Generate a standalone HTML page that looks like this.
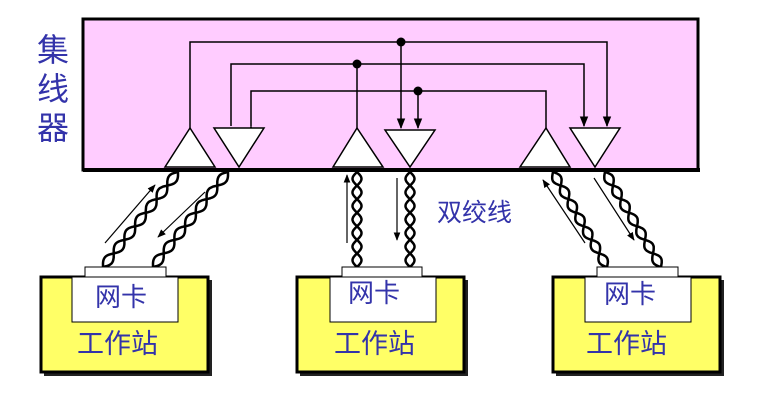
<!DOCTYPE html>
<html><head><meta charset="utf-8"><style>
html,body{margin:0;padding:0;background:#fff;width:769px;height:414px;overflow:hidden}
svg text{font-family:"Liberation Sans","Noto Sans CJK SC",sans-serif;fill:#3333aa}
</style></head><body>
<svg id="s" width="769" height="414" viewBox="0 0 769 414" xmlns="http://www.w3.org/2000/svg">
<defs>
<marker id="a" viewBox="0 0 10 10" refX="9" refY="5" markerWidth="7" markerHeight="7" orient="auto"><path d="M0,1 L10,5 L0,9 z" fill="#000"/></marker>
</defs>
<rect x="83" y="19" width="615" height="151" fill="#ffccff" stroke="#000" stroke-width="3"/>
<line x1="83" y1="170" x2="700" y2="170" stroke="#000" stroke-width="4"/>
<g stroke="#000" stroke-width="1.5" fill="none">
<path d="M190,128 V42 H607 V126" marker-end="url(#a)"/>
<path d="M401,42 V128" marker-end="url(#a)"/>
<path d="M231,126 V64 H584 V126" marker-end="url(#a)"/>
<path d="M357,64 V128"/>
<path d="M251,126 V91 H546 V128" marker-start="url(#a)"/>
<path d="M418,91 V128" marker-end="url(#a)"/>
</g>
<g fill="#000"><circle cx="401" cy="42" r="4.5"/><circle cx="357" cy="64" r="4.5"/><circle cx="418" cy="91" r="4.5"/></g>
<g fill="#fff" stroke="#000" stroke-width="1.5">
<polygon points="190,128 165,167 215,167"/>
<polygon points="214,128 264,128 239,167"/>
<polygon points="357,128 333,167 383,167"/>
<polygon points="385,130 435,130 410,167"/>
<polygon points="546,128 520,167 570,167"/>
<polygon points="570,128 620,128 595,167"/>
</g>
<text x="37" y="61" font-size="32">集</text>
<text x="37" y="100" font-size="32">线</text>
<text x="37" y="139" font-size="32">器</text>
<text x="437" y="221" font-size="25">双绞线</text>
<g id="tw" fill="none" stroke="#000" stroke-width="2.5"></g>
<g stroke="#000" stroke-width="1.2" marker-end="url(#a)">
<line x1="105" y1="243" x2="155" y2="185"/>
<line x1="205" y1="192" x2="158" y2="237"/>
<line x1="347" y1="243" x2="347" y2="175"/>
<line x1="397" y1="178" x2="397" y2="240"/>
<line x1="585" y1="243" x2="543" y2="180"/>
<line x1="594" y1="178" x2="634" y2="240"/>
</g>
<g>
<rect x="44" y="280" width="168" height="96" fill="#222"/>
<rect x="41" y="277" width="167" height="95" fill="#ffff66" stroke="#000" stroke-width="3"/>
<rect x="85" y="267" width="81" height="11" fill="#fff" stroke="#000"/>
<rect x="72" y="277" width="106" height="45" fill="#fff" stroke="#000"/>
<text x="95" y="306" font-size="26">网卡</text>
<text x="77" y="353" font-size="27">工作站</text>
</g>
<g>
<rect x="300" y="280" width="168" height="96" fill="#222"/>
<rect x="297" y="277" width="167" height="95" fill="#ffff66" stroke="#000" stroke-width="3"/>
<rect x="342" y="267" width="80" height="11" fill="#fff" stroke="#000"/>
<rect x="330" y="277" width="106" height="45" fill="#fff" stroke="#000"/>
<text x="348" y="302" font-size="26">网卡</text>
<text x="334" y="353" font-size="27">工作站</text>
</g>
<g>
<rect x="556" y="280" width="168" height="96" fill="#222"/>
<rect x="553" y="277" width="167" height="95" fill="#ffff66" stroke="#000" stroke-width="3"/>
<rect x="597" y="267" width="81" height="11" fill="#fff" stroke="#000"/>
<rect x="585" y="277" width="106" height="45" fill="#fff" stroke="#000"/>
<text x="604" y="303" font-size="26">网卡</text>
<text x="586" y="353" font-size="27">工作站</text>
</g>
</svg>
<script>
var g=document.getElementById('tw');
function tw(x1,y1,x2,y2){
 var dx=x2-x1,dy=y2-y1,L=Math.hypot(dx,dy),ux=dx/L,uy=dy/L,nx=-uy,ny=ux;
 for(var ph=0;ph<2;ph++){
  var d='';
  for(var t=0;t<=L;t+=1){
   var o=4.5*Math.sin(t/L*Math.PI*2*3.5+ph*Math.PI);
   var x=x1+ux*t+nx*o,y=y1+uy*t+ny*o;
   d+=(t?'L':'M')+x.toFixed(1)+','+y.toFixed(1);
  }
  var p=document.createElementNS('http://www.w3.org/2000/svg','path');
  p.setAttribute('d',d);g.appendChild(p);
 }
}
tw(178,172,103,267);tw(228,172,153,267);
tw(357,172,357,267);tw(410,172,410,267);
tw(553,172,607,267);tw(605,172,661,267);
</script>
</body></html>
